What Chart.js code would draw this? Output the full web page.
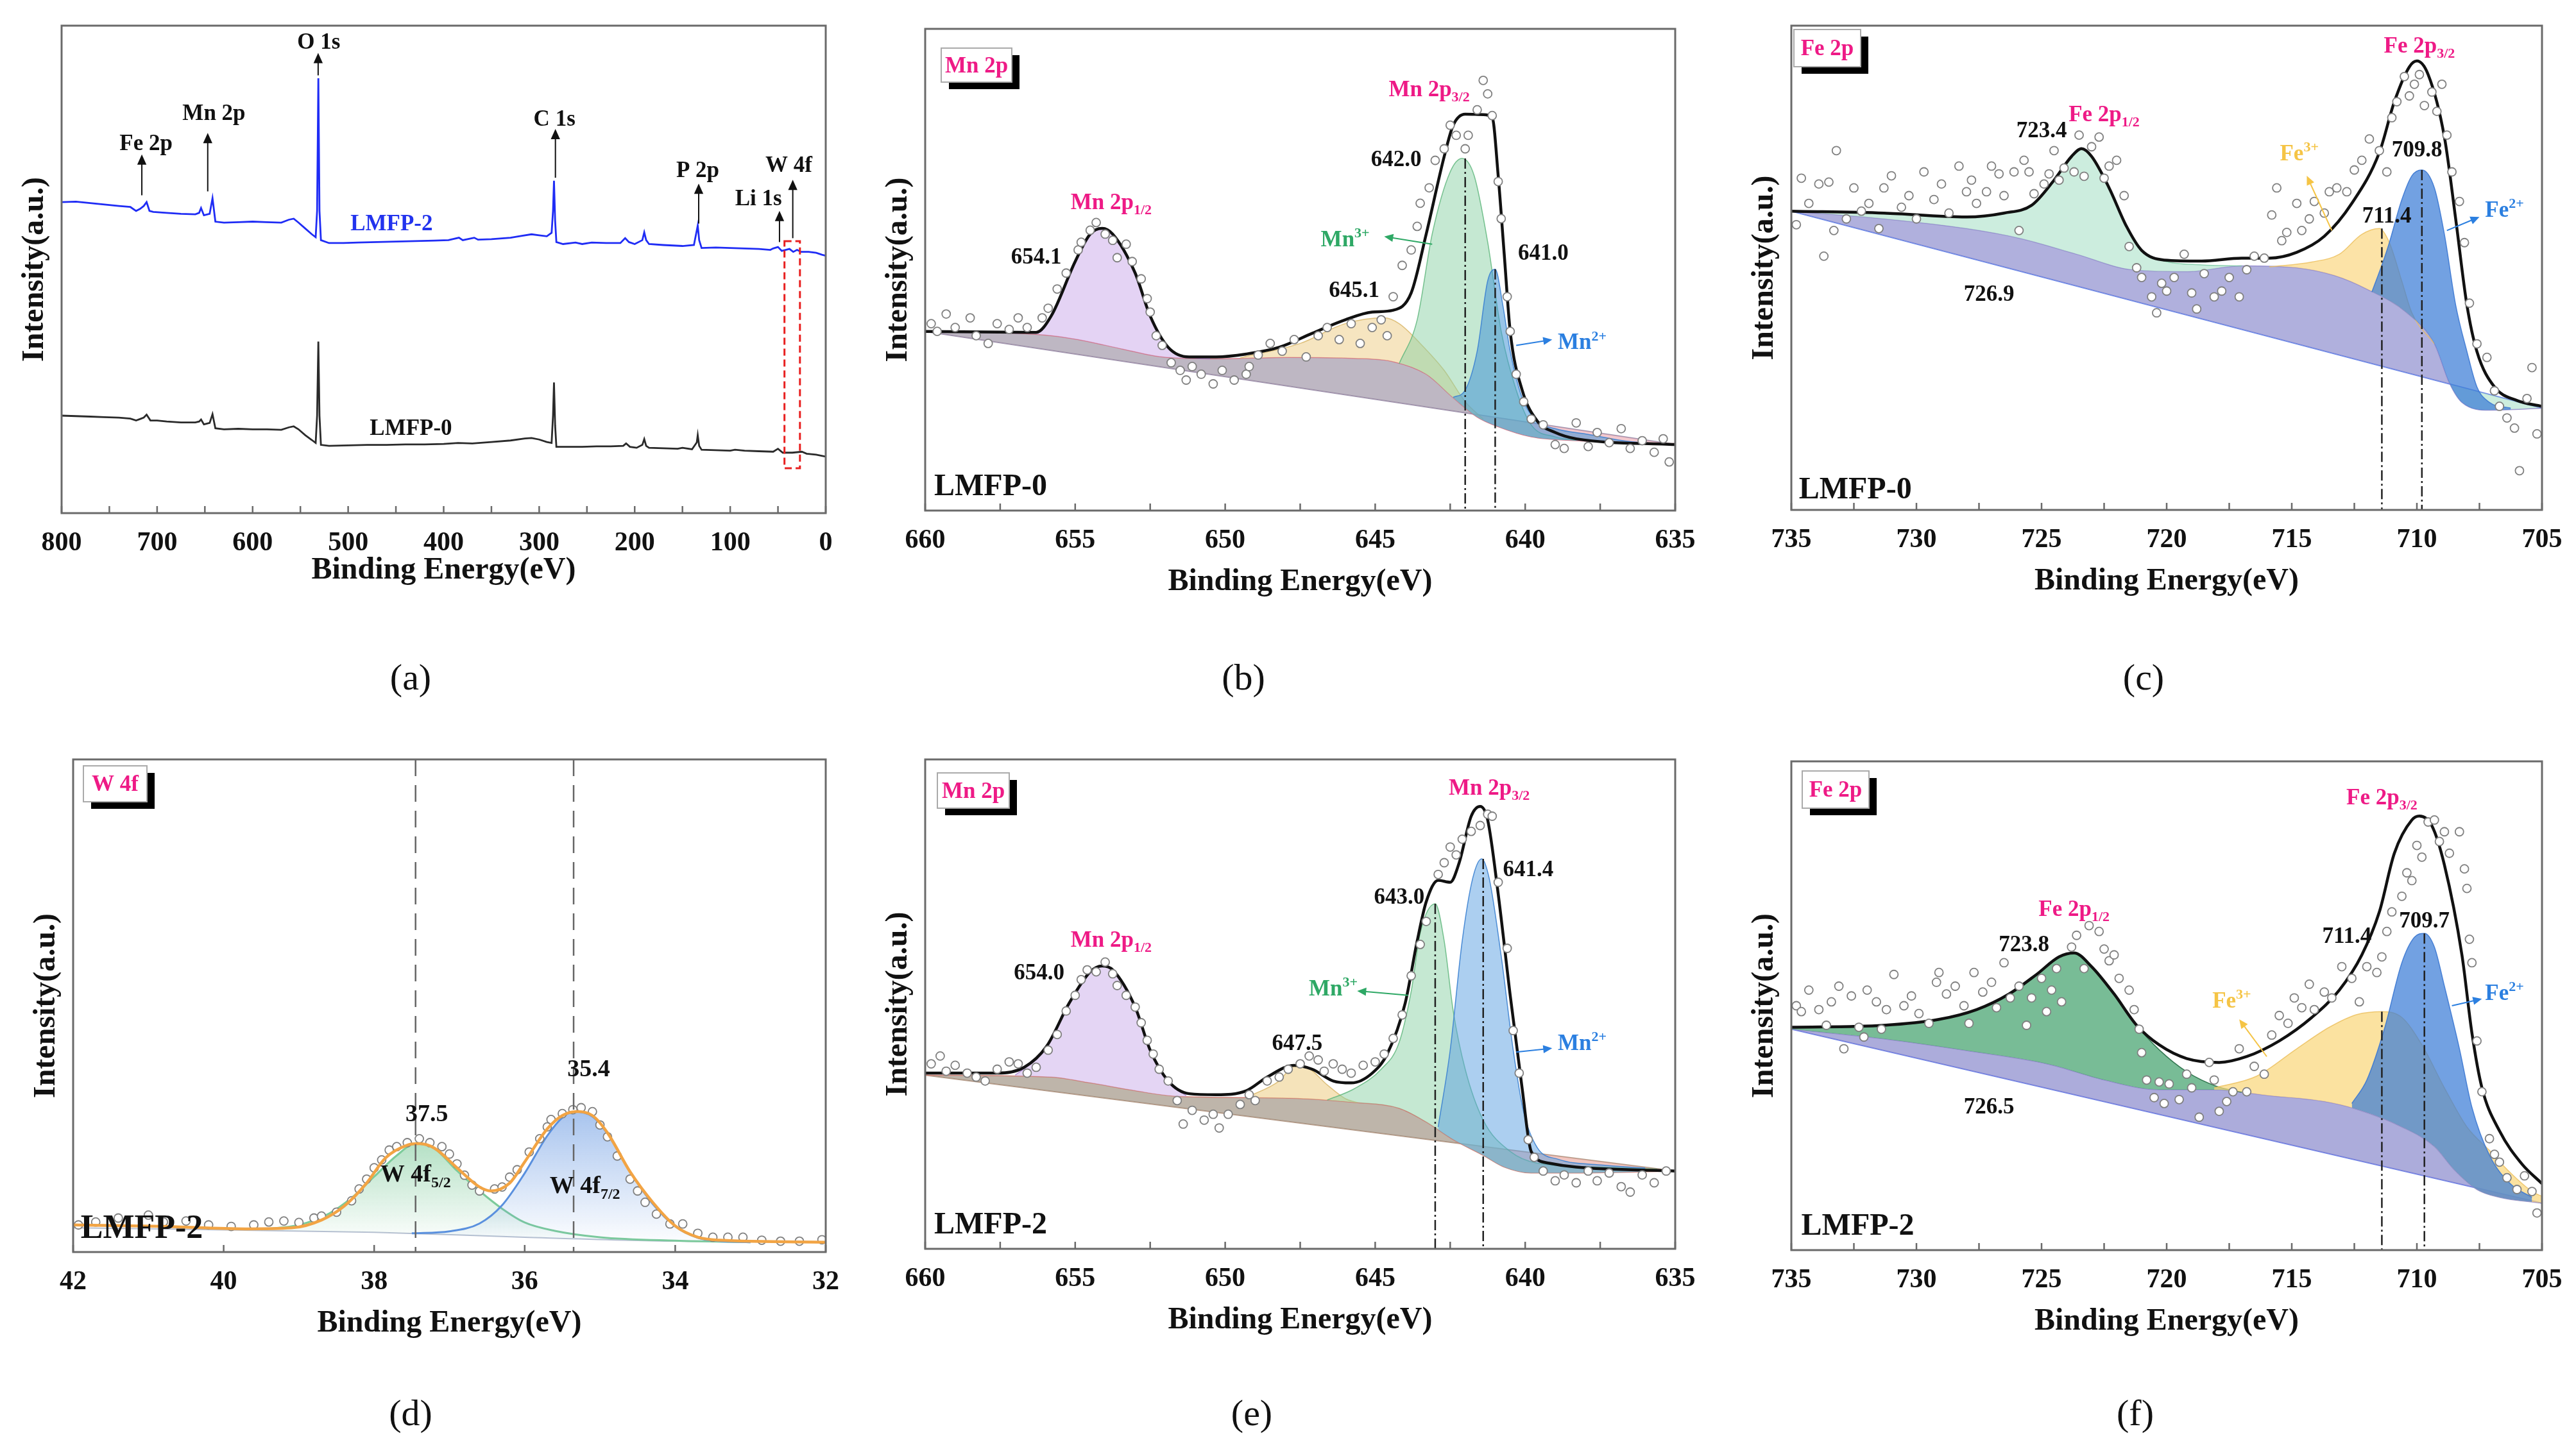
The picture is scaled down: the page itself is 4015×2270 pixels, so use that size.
<!DOCTYPE html>
<html>
<head>
<meta charset="utf-8">
<script src="https://cdn.jsdelivr.net/npm/chart.js@4.4.1/dist/chart.umd.min.js"></script>
<style>
  body { margin: 0; background: #fff; }
  #fig { position: relative; width: 4015px; height: 2270px; background: #fff; overflow: hidden; }
  .panel { position: absolute; }
  .lab { position: absolute; font-family: "Liberation Serif", serif; font-size: 58px; color: #111; transform: translate(-50%, -50%); }
</style>
</head>
<body>
<div id="fig">
  <div class="panel" id="pa"></div>
  <div class="panel" id="pb"></div>
  <div class="panel" id="pc"></div>
  <div class="panel" id="pd"></div>
  <div class="panel" id="pe"></div>
  <div class="panel" id="pf"></div>
  <div class="lab" style="left:640px;top:1055px">(a)</div>
  <div class="lab" style="left:1938px;top:1055px">(b)</div>
  <div class="lab" style="left:3341px;top:1055px">(c)</div>
  <div class="lab" style="left:640px;top:2202px">(d)</div>
  <div class="lab" style="left:1951px;top:2202px">(e)</div>
  <div class="lab" style="left:3328px;top:2202px">(f)</div>
</div>
<script>
// ---- (a) survey spectra: [binding energy, intensity] ----
const surveyLMFP2 = [[800,63.8],[785,63.9],[770,63.6],[755,63.3],[740,63.0],[728,62.8],[722,62.0],[718,62.4],[714,63.0],[711,63.8],[708,62.0],[704,61.8],[690,61.6],[675,61.4],[660,61.3],[656,61.6],[654,62.6],[651,61.1],[645,61.4],[642,64.6],[639,59.8],[630,59.6],[615,59.7],[600,59.8],[585,59.7],[570,59.6],[562,60.2],[557,60.4],[552,59.6],[545,58.4],[538,57.2],[534,56.6],[532.5,62],[531.2,89.2],[530,62],[528.5,56.0],[520,55.4],[505,55.4],[490,55.5],[470,55.6],[450,55.7],[430,55.8],[410,55.9],[395,56.0],[384,56.5],[380,56.0],[368,56.5],[364,56.1],[350,56.2],[330,56.5],[318,56.9],[308,57.2],[300,57.0],[292,56.8],[287,57.5],[285.5,62],[284.5,68.2],[283.3,60],[282,55.6],[275,55.2],[262,55.5],[255,55.2],[245,55.5],[230,55.4],[215,55.4],[210,56.4],[206,55.6],[200,55.2],[192,56.0],[190,57.6],[188,56.0],[185,55.2],[170,55.0],[150,54.8],[138,55.0],[135,58],[134,59.0],[132.5,56],[130,54.4],[115,54.5],[100,54.4],[85,54.3],[70,54.2],[58,54.0],[55,54.3],[50,54.6],[46,53.8],[42,54.0],[38,54.2],[34,53.6],[30,54.0],[26,53.6],[18,53.6],[10,53.4],[4,53.0],[0,52.8]];
const surveyLMFP0 = [[800,20.0],[785,19.9],[770,19.8],[755,19.7],[740,19.6],[728,19.4],[722,19.0],[718,19.3],[714,19.6],[711,20.2],[707,19.0],[700,19.0],[690,18.8],[675,18.6],[660,18.6],[656,18.8],[654,19.2],[651,18.2],[645,18.5],[642,20.3],[639,17.4],[630,17.2],[615,17.3],[600,17.2],[585,17.2],[570,17.1],[562,17.6],[557,17.8],[552,17.2],[545,16.0],[538,15.0],[534,14.4],[532.5,20],[531.2,35.2],[530,20],[528.5,14.0],[520,13.8],[500,13.9],[480,14.0],[460,14.0],[440,14.1],[420,14.1],[400,14.2],[385,14.4],[370,14.3],[350,14.6],[330,14.9],[315,15.3],[308,15.4],[300,15.1],[292,14.6],[287,14.4],[285.5,20],[284.5,26.8],[283.3,18],[282,13.6],[270,13.6],[255,13.6],[240,13.7],[225,13.7],[212,13.8],[209,14.3],[205,13.6],[198,13.4],[192,14.0],[190,15.2],[188,13.8],[185,13.4],[170,13.3],[155,13.2],[150,13.4],[140,13.1],[135,14.5],[134,16.0],[132.5,13.8],[130,13.0],[115,12.9],[100,12.8],[95,13.0],[85,12.8],[70,12.7],[55,12.6],[50,13.2],[45,12.4],[35,12.4],[25,12.6],[20,12.2],[10,12.0],[0,11.6]];
const surveyTicks = [800, 700, 600, 500, 400, 300, 200, 100, 0];

// ---- (b) Mn 2p, LMFP-0 ----
const mn0Linear = [[660,37.2],[635,13.7]];
const mn0Shirley = [[660,37.2],[656.1,36.5],[654.9,35.5],[653.4,33.5],[652.1,31.9],[650.3,31.5],[647.9,31.8],[645.7,31.6],[644.4,30.9],[643.3,28.3],[642.4,23.4],[641.6,19.4],[640.9,17.4],[639.8,15.3],[638.3,14.5],[635,13.9]];
const mn0Envelope = [[660,37.2],[656.3,37.0],[655.8,40.4],[655.0,51.7],[654.5,57.4],[654.1,58.6],[653.75,57.4],[653.0,49.3],[652.5,40.4],[651.9,33.9],[651.2,31.9],[650.3,31.9],[649.3,32.5],[648.2,33.9],[647.1,36.8],[646.0,39.6],[645.1,41.2],[644.4,41.6],[643.8,45.2],[643.3,57.4],[642.7,73.5],[642.4,80.0],[642.0,82.3],[641.4,82.2],[641.1,81.6],[640.9,69.5],[640.7,53.3],[640.5,37.2],[640.1,25.0],[639.6,18.6],[639.0,16.2],[638.3,14.9],[635,13.7]];
const mn0P12 = [[657.0,36.8],[656.3,37.0],[655.8,40.4],[655.0,51.7],[654.5,57.4],[654.1,58.6],[653.75,57.4],[653.0,49.3],[652.5,40.4],[651.9,33.9],[651.2,31.8],[650.5,31.5]];
const mn0Sat = [[649.5,31.7],[647.5,34.7],[646.0,38.8],[644.7,40.0],[644.2,38.8],[643.5,34.7],[642.7,29.1],[642.0,22.6],[641.4,19.0]];
const mn0Mn3 = [[644.2,30.5],[643.6,39.6],[643.1,57.4],[642.5,70.3],[642.1,73.1],[641.7,69.5],[641.25,55.7],[640.8,37.2],[640.3,25.0],[639.8,17.8],[639.0,15.3],[638.3,14.6]];
const mn0Mn2 = [[642.4,23.5],[642.0,25.0],[641.6,33.1],[641.25,47.7],[641.0,50.1],[640.75,42.8],[640.5,33.1],[640.1,23.4],[639.6,18.6],[639.0,17.0],[637.9,15.8],[636.5,14.3],[635.5,13.9]];
const mn0Raw = [[659.8,38.8],[659.6,37.2],[659.3,40.8],[659.0,38.0],[658.5,40.0],[658.3,36.3],[657.9,34.7],[657.6,38.8],[657.2,37.6],[656.9,40.0],[656.6,38.0],[656.1,40.0],[655.9,42.0],[655.6,46.0],[655.3,49.3],[654.9,54.1],[654.8,55.7],[654.5,58.2],[654.3,59.8],[654.0,57.4],[653.75,56.1],[653.6,52.5],[653.3,55.3],[653.1,51.7],[652.8,48.1],[652.6,44.0],[652.5,41.2],[652.3,36.3],[652.1,34.3],[651.8,30.7],[651.5,29.1],[651.3,27.1],[651.1,29.9],[650.8,28.3],[650.4,26.3],[650.1,29.1],[649.7,27.1],[649.3,28.3],[649.2,29.9],[648.9,32.3],[648.5,34.7],[648.1,33.1],[647.7,35.5],[647.3,31.9],[646.9,36.3],[646.6,38.0],[646.2,35.5],[645.8,38.8],[645.5,34.7],[645.1,38.0],[644.8,39.6],[644.6,36.3],[644.4,44.4],[644.1,50.9],[643.8,54.1],[643.6,59.0],[643.5,63.8],[643.2,67.0],[643.0,72.7],[642.7,75.1],[642.5,80.0],[642.3,77.9],[642.0,75.1],[641.9,77.9],[641.6,83.2],[641.4,89.3],[641.25,86.5],[641.1,82.0],[640.9,68.3],[640.8,60.6],[640.6,44.4],[640.5,37.2],[640.3,28.3],[640.05,22.6],[639.8,19.0],[639.4,17.8],[639.0,13.7],[638.7,12.9],[638.3,18.2],[637.9,13.3],[637.6,16.2],[637.2,14.1],[636.8,17.0],[636.5,12.9],[636.1,14.5],[635.7,12.1],[635.4,14.9],[635.2,10.1]];

// ---- (e) Mn 2p, LMFP-2 ----
const mn2Linear = [[660,35.5],[635,15.9]];
const mn2Shirley = [[660,35.5],[655.8,35.1],[654.5,33.9],[653.0,32.3],[651.7,31.2],[649.3,30.9],[647.5,30.7],[645.7,29.9],[644.2,28.7],[643.3,25.9],[642.4,22.3],[641.4,19.1],[640.7,16.7],[639.8,15.5],[638.3,15.5],[635,15.9]];
const mn2Envelope = [[660,35.9],[657.6,35.9],[656.7,37.1],[655.95,41.4],[655.2,50.2],[654.5,56.6],[654.1,57.8],[653.75,57.0],[653.0,49.4],[652.5,40.6],[651.9,34.3],[651.2,31.7],[650.3,31.5],[649.3,32.3],[648.6,35.1],[647.7,37.5],[647.1,36.7],[646.4,34.3],[645.8,33.9],[645.1,35.9],[644.6,39.8],[644.0,50.2],[643.6,62.9],[643.3,70.9],[642.9,75.3],[642.5,74.9],[642.2,78.9],[641.8,88.4],[641.5,90.4],[641.25,87.6],[640.9,72.5],[640.5,51.8],[640.1,32.7],[639.8,19.9],[639.2,17.5],[638.3,16.7],[635,15.9]];
const mn2P12 = [[657.0,35.5],[656.5,37.8],[656.0,41.0],[655.2,50.2],[654.5,56.6],[654.0,57.8],[653.75,57.0],[653.0,49.4],[652.5,40.6],[651.9,34.0],[651.3,31.3]];
const mn2Sat = [[649.3,30.9],[648.2,34.3],[647.7,37.3],[647.3,37.1],[646.6,33.5],[646.0,30.7],[645.6,29.9]];
const mn2Mn3 = [[646.6,30.4],[645.7,32.7],[644.8,36.7],[644.2,42.2],[643.8,52.6],[643.5,64.5],[643.0,70.5],[642.7,62.9],[642.4,48.6],[642.0,36.7],[641.4,26.3],[640.5,19.9],[639.6,17.5],[637.4,16.7],[635.6,16.3]];
const mn2Mn2 = [[642.9,24.9],[642.5,40.6],[642.1,62.9],[641.75,75.7],[641.45,79.7],[641.2,75.7],[640.8,59.8],[640.4,40.6],[640.05,27.9],[639.6,20.7],[638.9,18.3],[637.4,17.1],[636.0,16.5]];
const mn2Raw = [[659.8,37.8],[659.5,39.4],[659.3,36.3],[659.0,37.5],[658.6,35.9],[658.3,35.1],[658.0,34.3],[657.6,36.7],[657.2,38.2],[656.9,37.8],[656.6,35.9],[656.3,37.1],[655.9,40.6],[655.6,43.8],[655.3,48.6],[655.0,51.8],[654.8,55.0],[654.6,57.0],[654.3,56.6],[654.0,58.6],[653.75,56.2],[653.6,53.8],[653.3,51.8],[653.0,49.4],[652.8,46.2],[652.6,42.6],[652.4,39.8],[652.2,36.7],[651.9,34.3],[651.6,30.3],[651.4,25.5],[651.1,28.3],[650.7,26.3],[650.4,27.5],[650.2,24.7],[649.9,27.5],[649.5,29.5],[649.2,31.5],[649.0,30.3],[648.6,34.3],[648.2,35.1],[647.9,36.7],[647.5,37.8],[647.2,39.4],[646.9,38.6],[646.7,36.3],[646.4,37.8],[646.1,36.7],[645.8,35.9],[645.4,37.5],[645.0,38.2],[644.7,39.8],[644.4,43.0],[644.1,47.8],[643.8,55.8],[643.5,62.2],[643.3,66.9],[642.9,76.5],[642.7,78.9],[642.5,82.1],[642.3,80.5],[642.1,83.7],[641.8,85.3],[641.5,86.5],[641.25,88.8],[641.1,88.4],[640.9,74.9],[640.6,61.4],[640.4,44.6],[640.2,35.9],[639.9,22.3],[639.7,18.7],[639.4,15.9],[639.0,13.9],[638.7,15.1],[638.3,13.5],[637.9,15.9],[637.6,13.9],[637.2,15.5],[636.8,12.7],[636.5,11.6],[636.1,15.1],[635.7,13.5],[635.3,15.9]];
const mnTicks = [660, 655, 650, 645, 640, 635];

// ---- (c) Fe 2p, LMFP-0 ----
const fe0Linear = [[735,61.7],[705,21.0]];
const fe0Shirley = [[735,61.7],[731.3,60.1],[728.0,58.1],[725.8,56.0],[723.6,52.8],[721.4,49.6],[719.2,49.2],[717.0,50.4],[714.8,50.0],[713.3,48.4],[712.0,45.6],[710.4,40.7],[709.3,34.3],[708.7,26.2],[708.2,22.2],[707.1,20.6],[705,21.0]];
const fe0Envelope = [[735,61.7],[731.3,61.3],[728.0,60.5],[726.5,61.3],[725.4,62.9],[724.5,68.1],[723.8,73.0],[723.4,74.6],[723.0,73.0],[722.3,66.5],[721.6,58.5],[721.0,53.6],[720.1,51.6],[718.6,51.4],[717.0,52.0],[715.9,52.0],[714.8,53.2],[713.7,56.5],[712.6,63.3],[711.5,73.8],[710.9,84.3],[710.3,91.5],[710.0,92.7],[709.55,89.9],[708.9,77.0],[708.45,60.1],[708.0,42.3],[707.6,32.7],[706.9,25.4],[706.0,22.6],[705,21.4]];
const fe0P12 = [[735,61.7],[731.3,61.3],[728.0,60.5],[726.5,61.3],[725.4,62.9],[724.5,68.1],[723.8,73.0],[723.4,74.6],[723.0,73.0],[722.3,66.5],[721.6,58.5],[721.0,53.6],[720.1,51.4],[718.6,50.6],[717.0,50.4]];
const fe0Fe3 = [[715.9,50.2],[714.2,51.2],[713.1,52.8],[712.2,56.9],[711.5,58.1],[711.1,55.2],[710.6,47.2],[710.2,40.7],[709.3,34.3]];
const fe0Fe2 = [[711.8,45.0],[711.3,52.0],[711.1,55.2],[710.6,64.1],[710.2,69.0],[709.8,70.2],[709.3,66.5],[708.9,56.9],[708.45,42.3],[708.0,32.7],[707.6,25.4],[707.1,22.2],[706.25,21.0]];
const fe0Raw = [[734.8,58.9],[734.6,68.5],[734.3,63.3],[733.9,67.3],[733.7,52.4],[733.5,67.7],[733.3,57.7],[733.2,74.2],[732.8,60.1],[732.5,66.5],[732.2,61.7],[731.9,63.3],[731.5,58.1],[731.3,66.5],[731.0,69.0],[730.6,62.5],[730.3,64.9],[730.0,60.1],[729.7,69.8],[729.3,64.1],[729.0,67.3],[728.7,61.3],[728.3,71.0],[728.0,65.7],[727.8,68.1],[727.6,63.3],[727.2,65.7],[727.0,71.0],[726.7,69.4],[726.5,64.9],[726.1,69.8],[725.9,57.7],[725.7,72.2],[725.5,69.8],[725.3,65.3],[724.9,67.3],[724.7,69.4],[724.5,74.2],[724.3,68.1],[724.1,70.6],[723.7,69.8],[723.5,77.4],[723.3,68.9],[723.0,75.0],[722.7,77.0],[722.5,68.5],[722.3,71.0],[722.0,72.2],[721.7,64.9],[721.5,54.4],[721.2,50.0],[721.0,48.0],[720.6,44.0],[720.4,40.7],[720.2,46.8],[720.0,45.2],[719.7,48.0],[719.3,52.8],[719.0,44.8],[718.8,41.5],[718.5,48.8],[718.1,44.0],[717.8,45.2],[717.5,48.0],[717.1,44.0],[716.8,49.6],[716.5,52.4],[716.1,52.0],[715.8,60.9],[715.6,66.5],[715.4,55.6],[715.2,57.3],[714.8,63.3],[714.6,57.7],[714.3,60.1],[714.1,63.7],[713.7,61.3],[713.5,65.7],[713.2,66.5],[712.8,65.7],[712.5,70.2],[712.2,72.2],[711.9,76.6],[711.5,74.2],[711.2,69.8],[711.0,81.0],[710.8,84.3],[710.5,89.5],[710.3,85.5],[710.1,87.9],[709.9,89.9],[709.7,83.5],[709.4,86.3],[709.2,82.3],[709.0,87.9],[708.8,77.4],[708.6,69.8],[708.3,63.7],[708.1,55.2],[707.9,42.7],[707.6,34.3],[707.2,31.5],[706.9,24.6],[706.7,21.4],[706.4,19.0],[706.1,16.9],[705.9,8.1],[705.6,23.0],[705.4,29.4],[705.2,15.7]];

// ---- (f) Fe 2p, LMFP-2 ----
const fe2Linear = [[735,45.2],[705,9.6]];
const fe2Shirley = [[735,45.2],[731.3,43.2],[728.0,40.8],[724.7,38.0],[722.5,34.8],[720.3,32.8],[718.1,32.8],[715.9,31.6],[713.7,30.4],[712.4,28.8],[710.6,25.2],[709.3,21.2],[708.5,16.4],[707.6,12.4],[706.7,10.8],[705,9.6]];
const fe2Envelope = [[735,45.6],[731.3,46.0],[729.1,47.2],[727.6,49.2],[726.3,52.4],[725.2,56.4],[724.3,60.0],[723.7,60.8],[723.0,58.0],[722.1,52.4],[721.2,46.0],[720.3,42.0],[719.2,39.2],[717.9,38.4],[716.8,39.6],[715.5,42.8],[714.2,47.6],[713.1,53.2],[712.2,60.4],[711.5,69.2],[710.9,81.2],[710.2,88.0],[709.9,88.8],[709.4,86.8],[708.9,78.8],[708.2,60.4],[707.8,44.4],[707.4,33.2],[706.7,24.4],[705.8,17.6],[705,13.6]];
const fe2P12 = [[735,45.6],[731.3,46.0],[729.1,47.2],[727.6,49.2],[726.3,52.4],[725.2,56.4],[724.3,60.0],[723.7,60.8],[723.0,58.0],[722.1,52.4],[721.2,46.0],[720.3,41.0],[719.2,36.5],[718.0,33.5],[717.0,32.3]];
const fe2Fe3 = [[718.1,33.2],[716.4,35.6],[714.8,41.2],[713.5,45.6],[712.4,48.2],[711.4,48.8],[710.6,47.6],[709.8,42.0],[708.9,33.2],[708.0,25.2],[707.1,20.4],[706.3,16.0],[705.4,12.0],[705.0,11.0]];
const fe2Fe2 = [[712.6,30.0],[712.0,34.8],[711.3,45.2],[710.6,58.8],[710.1,64.0],[709.7,64.8],[709.3,62.0],[708.9,54.0],[708.3,41.2],[707.8,29.2],[707.1,19.4],[706.25,13.5],[705.4,10.8]];
const fe2Raw = [[734.8,50.0],[734.6,48.8],[734.3,53.2],[733.9,49.2],[733.6,46.0],[733.4,50.8],[733.1,54.0],[732.9,41.2],[732.6,52.0],[732.3,45.6],[732.1,43.6],[731.97,53.2],[731.6,50.8],[731.4,45.2],[731.2,49.2],[730.9,56.4],[730.5,50.0],[730.2,52.0],[729.9,48.4],[729.5,46.4],[729.2,54.8],[729.1,56.8],[728.8,52.4],[728.45,54.0],[728.1,50.0],[727.9,46.4],[727.7,56.8],[727.35,52.8],[727.0,54.8],[726.8,49.6],[726.5,58.8],[726.25,51.6],[725.9,54.0],[725.6,46.0],[725.4,51.6],[725.0,55.6],[724.8,48.8],[724.6,53.2],[724.4,57.6],[724.2,50.8],[723.8,62.0],[723.6,64.4],[723.3,57.6],[723.1,66.4],[722.7,65.2],[722.5,61.6],[722.3,59.2],[722.1,60.4],[721.9,55.6],[721.5,53.2],[721.3,49.2],[721.1,45.2],[721.0,40.4],[720.8,34.8],[720.5,31.2],[720.3,34.4],[720.1,30.0],[719.9,34.0],[719.5,30.8],[719.2,36.0],[719.0,33.2],[718.7,27.2],[718.3,38.4],[718.1,34.8],[717.9,28.4],[717.6,30.4],[717.35,32.4],[717.1,41.2],[716.8,32.4],[716.5,37.6],[716.1,36.0],[715.8,44.0],[715.5,48.0],[715.15,46.4],[714.9,51.6],[714.6,49.6],[714.3,54.4],[714.1,49.2],[713.7,52.8],[713.4,51.6],[713.0,58.0],[712.6,55.6],[712.3,50.8],[712.0,58.0],[711.6,56.8],[711.4,60.0],[711.2,65.2],[711.0,69.2],[710.6,72.4],[710.4,77.2],[710.2,75.6],[710.0,82.8],[709.8,80.4],[709.55,87.6],[709.3,88.0],[709.1,83.6],[708.9,85.6],[708.7,81.2],[708.3,85.6],[708.1,78.0],[708.0,74.0],[707.9,63.6],[707.8,58.8],[707.6,42.8],[707.4,32.4],[707.1,22.8],[706.9,19.6],[706.7,18.0],[706.4,14.8],[706.0,12.4],[705.7,15.2],[705.4,12.0],[705.2,7.6]];
const feTicks = [735, 730, 725, 720, 715, 710, 705];

// ---- (d) W 4f, LMFP-2 ----
const w2Background = [[42,4.9],[38,4.0],[36,3.0],[34,2.2],[32,2.0]];
const w2Envelope = [[42,5.5],[40.8,5.2],[39.7,4.7],[39.1,4.9],[38.7,6.5],[38.4,9.3],[38.1,14.0],[37.85,19.1],[37.56,21.7],[37.4,22.0],[37.2,21.1],[36.9,17.1],[36.6,13.2],[36.45,12.4],[36.2,14.0],[36.0,18.3],[35.7,25.0],[35.5,27.7],[35.3,28.5],[35.1,27.7],[34.9,24.2],[34.6,16.3],[34.3,10.1],[34.0,5.3],[33.7,3.0],[33.4,2.4],[32,2.0]];
const w2F52 = [[39.5,4.6],[39.0,5.5],[38.6,7.8],[38.3,11.0],[38.0,15.3],[37.7,19.6],[37.45,22.0],[37.2,21.0],[36.9,16.5],[36.6,12.4],[36.3,8.8],[36.0,6.0],[35.6,4.3],[35.0,3.0],[34.0,2.3],[33.0,2.0]];
const w2F72 = [[37.5,3.8],[37.0,4.2],[36.6,5.8],[36.3,9.5],[36.0,16.0],[35.7,23.6],[35.5,27.3],[35.35,28.5],[35.1,27.5],[34.9,24.0],[34.6,16.3],[34.3,9.8],[34.0,5.2],[33.7,2.9],[33.4,2.2],[33.0,2.0]];
const w2Raw = [[41.93,5.5],[41.7,6.1],[41.4,6.9],[41.0,7.5],[40.8,6.1],[40.5,6.3],[40.2,5.5],[39.9,5.2],[39.6,5.5],[39.4,6.1],[39.2,6.3],[39.0,6.0],[38.8,6.9],[38.7,7.3],[38.5,8.1],[38.3,10.4],[38.2,12.8],[38.1,14.8],[38.0,17.1],[37.9,18.7],[37.8,20.7],[37.7,21.4],[37.56,22.2],[37.4,23.0],[37.26,22.2],[37.1,21.4],[37.0,19.9],[36.9,17.9],[36.8,15.6],[36.7,13.6],[36.6,12.4],[36.4,12.8],[36.3,13.2],[36.2,15.2],[36.1,16.7],[35.94,20.3],[35.8,23.0],[35.7,25.4],[35.65,26.9],[35.5,28.1],[35.36,28.9],[35.25,29.3],[35.1,28.5],[35.0,25.8],[34.9,23.4],[34.77,19.5],[34.6,14.8],[34.5,12.4],[34.4,10.1],[34.25,7.7],[34.07,5.7],[33.9,5.7],[33.7,3.8],[33.5,3.0],[33.3,3.0],[33.1,3.0],[32.85,2.4],[32.6,2.2],[32.35,2.2],[32.05,2.5]];
const wTicks = [42, 40, 38, 36, 34, 32];

// ---------------------------------------------------------------
const SERIF = '"Liberation Serif", "Times New Roman", serif';
const PINK = '#ee1a86';
const pts = arr => arr.map(([x, y]) => ({x, y}));

function richParts(s) {
  const out = [], re = /([_^])\{([^}]*)\}/g;
  let last = 0, m;
  while ((m = re.exec(s))) {
    if (m.index > last) out.push({t: s.slice(last, m.index), k: ''});
    out.push({t: m[2], k: m[1]});
    last = re.lastIndex;
  }
  if (last < s.length) out.push({t: s.slice(last), k: ''});
  return out;
}

function drawRich(ctx, s, x, y, size, color, align) {
  const parts = richParts(s);
  let w = 0;
  parts.forEach(p => {
    p.sz = p.k ? Math.round(size * 0.62) : size;
    ctx.font = `bold ${p.sz}px ${SERIF}`;
    p.w = ctx.measureText(p.t).width;
    w += p.w;
  });
  let cx = align === 'left' ? x : align === 'right' ? x - w : x - w / 2;
  ctx.fillStyle = color;
  ctx.textAlign = 'left';
  ctx.textBaseline = 'middle';
  parts.forEach(p => {
    ctx.font = `bold ${p.sz}px ${SERIF}`;
    const dy = p.k === '_' ? size * 0.32 : p.k === '^' ? -size * 0.3 : 0;
    ctx.fillText(p.t, cx, y + dy);
    cx += p.w;
  });
}

function arrow(ctx, x1, y1, x2, y2, color, w, head) {
  const ang = Math.atan2(y2 - y1, x2 - x1);
  ctx.strokeStyle = color; ctx.fillStyle = color; ctx.lineWidth = w; ctx.setLineDash([]);
  ctx.beginPath();
  ctx.moveTo(x1, y1);
  ctx.lineTo(x2 - Math.cos(ang) * head * 0.8, y2 - Math.sin(ang) * head * 0.8);
  ctx.stroke();
  ctx.beginPath();
  ctx.moveTo(x2, y2);
  ctx.lineTo(x2 - head * Math.cos(ang) + head * 0.45 * Math.sin(ang), y2 - head * Math.sin(ang) - head * 0.45 * Math.cos(ang));
  ctx.lineTo(x2 - head * Math.cos(ang) - head * 0.45 * Math.sin(ang), y2 - head * Math.sin(ang) + head * 0.45 * Math.cos(ang));
  ctx.closePath();
  ctx.fill();
}

// draws frame, inward ticks, label box, guide lines, arrows and texts
function makeDecor(spec) {
  return {
    id: 'decor',
    afterDatasetsDraw(chart) {
      const {ctx, chartArea: a, scales: {x, y}} = chart;
      const X = v => x.getPixelForValue(v), Y = v => y.getPixelForValue(v);
      ctx.save();
      (spec.vlines || []).forEach(l => {
        ctx.strokeStyle = l.color || '#222';
        ctx.lineWidth = l.width || 2.5;
        ctx.setLineDash(l.dash || [16, 5, 3, 5]);
        ctx.beginPath();
        ctx.moveTo(X(l.x), l.top === undefined ? a.top : Y(l.top));
        ctx.lineTo(X(l.x), a.bottom);
        ctx.stroke();
      });
      (spec.rects || []).forEach(r => {
        ctx.strokeStyle = r.color; ctx.lineWidth = 3; ctx.setLineDash(r.dash);
        ctx.strokeRect(X(r.x1), Y(r.y1), X(r.x2) - X(r.x1), Y(r.y2) - Y(r.y1));
      });
      (spec.arrows || []).forEach(r => arrow(ctx, X(r[0]), Y(r[1]), X(r[2]), Y(r[3]), r[4] || '#111', r[5] || 2, r[6] || 16));
      (spec.texts || []).forEach(t => drawRich(ctx, t.t, X(t.x), Y(t.y), t.s || 35, t.c || '#111', t.a || 'center'));
      // frame
      ctx.setLineDash([]);
      ctx.strokeStyle = '#6a6a6a';
      ctx.lineWidth = 3;
      ctx.strokeRect(a.left, a.top, a.right - a.left, a.bottom - a.top);
      // inward ticks on x axis
      const tv = spec.ticks;
      const marks = [];
      tv.forEach((v, i) => {
        marks.push(v);
        if (spec.minor && i < tv.length - 1) marks.push((v + tv[i + 1]) / 2);
      });
      ctx.lineWidth = 2.5;
      ctx.beginPath();
      marks.forEach(v => { ctx.moveTo(X(v), a.bottom); ctx.lineTo(X(v), a.bottom - 11); });
      ctx.stroke();
      // element label box
      if (spec.box) {
        const b = spec.box, bx = a.left + b.dx, by = a.top + b.dy;
        ctx.fillStyle = '#000';
        ctx.fillRect(bx + 12, by + 11, b.w, b.h);
        ctx.fillStyle = '#fff';
        ctx.fillRect(bx, by, b.w, b.h);
        ctx.strokeStyle = '#aaa'; ctx.lineWidth = 2;
        ctx.strokeRect(bx, by, b.w, b.h);
        drawRich(ctx, b.text, bx + b.w / 2, by + b.h / 2 + 2, 35, PINK, 'center');
      }
      ctx.restore();
    }
  };
}

function panel(id, frame, xr, ticks, datasets, spec, xh) {
  const YW = 70, PT = 10, PR = 50, XH = xh || 140;
  const host = document.getElementById(id);
  host.style.left = (frame[0] - YW) + 'px';
  host.style.top = (frame[1] - PT) + 'px';
  host.style.width = (frame[2] - frame[0] + YW + PR) + 'px';
  host.style.height = (frame[3] - frame[1] + PT + XH) + 'px';
  const canvas = document.createElement('canvas');
  host.appendChild(canvas);
  spec.ticks = ticks;
  return new Chart(canvas, {
    type: 'line',
    data: {datasets},
    options: {
      responsive: true,
      maintainAspectRatio: false,
      animation: false,
      devicePixelRatio: 1,
      layout: {padding: {top: PT, right: PR, left: 0, bottom: 0}},
      plugins: {legend: {display: false}, tooltip: {enabled: false}},
      scales: {
        x: {
          type: 'linear', reverse: true, min: xr[1], max: xr[0],
          afterBuildTicks: s => { s.ticks = ticks.map(v => ({value: v})); },
          ticks: {font: {family: SERIF, weight: 'bold', size: 42}, color: '#111', padding: 14, maxRotation: 0, autoSkip: false},
          grid: {display: false}, border: {display: false},
          title: {display: true, text: 'Binding Energy(eV)', color: '#111', padding: 0, font: {family: SERIF, weight: 'bold', size: 48}},
          afterFit: s => { s.height = XH; }
        },
        y: {
          min: 0, max: 100,
          ticks: {display: false}, grid: {display: false}, border: {display: false},
          title: {display: true, text: 'Intensity(a.u.)', color: '#111', padding: 0, font: {family: SERIF, weight: 'bold', size: 48}},
          afterFit: s => { s.width = YW; }
        }
      }
    },
    plugins: [makeDecor(spec)]
  });
}

function fitDatasets(p) {
  const ds = [];
  ds.push({data: pts(p.linear), borderColor: p.linColor, borderWidth: 2, pointRadius: 0, fill: false, order: 5});
  ds.push({data: pts(p.shirley), borderColor: p.bgLine, borderWidth: 1.5, pointRadius: 0, cubicInterpolationMode: 'monotone',
           backgroundColor: p.bgAbove, fill: {target: 0, above: p.bgAbove, below: p.bgBelow}, order: 4});
  p.comps.forEach((c, i) => ds.push({data: pts(c[0]), borderColor: c[2], borderWidth: 1.5, pointRadius: 0, cubicInterpolationMode: 'monotone',
           backgroundColor: c[1], fill: {target: 1, above: c[1], below: 'rgba(0,0,0,0)'}, order: 3 - i * 0.1}));
  ds.push({data: pts(p.envelope), borderColor: '#111', borderWidth: 4.5, pointRadius: 0, cubicInterpolationMode: 'monotone', fill: false, order: 1});
  ds.push({data: pts(p.raw), showLine: false, pointRadius: 6.5, pointBackgroundColor: '#fff', pointBorderColor: '#808080', pointBorderWidth: 1.8, order: 0});
  return ds;
}

// (a) survey
panel('pa', [96, 40, 1287, 800], [800, 0], surveyTicks, [
  {data: pts(surveyLMFP2), borderColor: '#1f2cf5', borderWidth: 2.8, pointRadius: 0, fill: false},
  {data: pts(surveyLMFP0), borderColor: '#2a2a2a', borderWidth: 2.8, pointRadius: 0, fill: false}
], {
  minor: true,
  rects: [{x1: 43.2, x2: 27.0, y1: 55.8, y2: 9.2, color: '#e82020', dash: [11, 6]}],
  arrows: [[716, 65.2, 716, 73.6], [647, 66, 647, 78], [531.4, 89.8, 531.4, 94.4], [283, 68.8, 283, 78.8], [133, 59.4, 133, 67.6], [48.4, 55.6, 48.4, 62.0], [34.5, 56.4, 34.5, 68.4]],
  texts: [
    {x: 711.6, y: 75.6, t: 'Fe 2p'}, {x: 640.5, y: 81.8, t: 'Mn 2p'}, {x: 530.8, y: 96.4, t: 'O 1s'},
    {x: 284, y: 80.6, t: 'C 1s'}, {x: 134, y: 70.2, t: 'P 2p'}, {x: 70.4, y: 64.4, t: 'Li 1s'}, {x: 38.6, y: 71.2, t: 'W 4f'},
    {x: 454.5, y: 59.2, t: 'LMFP-2', c: '#2233ee'}, {x: 434.3, y: 17.2, t: 'LMFP-0'}
  ]
}, 118);

// (b) Mn 2p LMFP-0
panel('pb', [1442, 45, 2611, 796], [660, 635], mnTicks, fitDatasets({
  linear: mn0Linear, linColor: 'rgba(150,140,170,0.9)',
  shirley: mn0Shirley, bgLine: 'rgba(210,110,130,0.9)', bgAbove: 'rgba(150,138,158,0.62)', bgBelow: 'rgba(235,165,175,0.6)',
  comps: [
    [mn0P12, 'rgba(205,175,235,0.55)', 'rgba(170,130,210,0.8)'],
    [mn0Sat, 'rgba(238,208,140,0.55)', 'rgba(215,180,100,0.8)'],
    [mn0Mn3, 'rgba(140,210,165,0.5)', 'rgba(90,180,120,0.8)'],
    [mn0Mn2, 'rgba(70,150,215,0.55)', 'rgba(60,130,210,0.9)']
  ],
  envelope: mn0Envelope, raw: mn0Raw
}), {
  minor: true,
  box: {text: 'Mn 2p', dx: 25, dy: 30, w: 110, h: 53},
  vlines: [{x: 642.0, top: 73.1}, {x: 641.0, top: 50.1}],
  arrows: [[643.1, 55.3, 644.7, 56.9, '#2ea865', 2, 14], [640.3, 34.3, 639.1, 35.5, '#2b7fe0', 2, 14]],
  texts: [
    {x: 643.2, y: 87.2, t: 'Mn 2p_{3/2}', c: PINK}, {x: 644.3, y: 72.7, t: '642.0'},
    {x: 653.8, y: 63.8, t: 'Mn 2p_{1/2}', c: PINK}, {x: 656.3, y: 52.5, t: '654.1'},
    {x: 645.7, y: 45.6, t: '645.1'}, {x: 646.0, y: 56.1, t: 'Mn^{3+}', c: '#2ea865'},
    {x: 639.4, y: 53.3, t: '641.0'}, {x: 638.1, y: 34.7, t: 'Mn^{2+}', c: '#2b7fe0'},
    {x: 659.7, y: 4.8, t: 'LMFP-0', s: 48, a: 'left'}
  ]
});

// (c) Fe 2p LMFP-0
panel('pc', [2792, 40, 3962, 795], [735, 705], feTicks, fitDatasets({
  linear: fe0Linear, linColor: 'rgba(90,120,235,0.9)',
  shirley: fe0Shirley, bgLine: 'rgba(140,130,200,0.8)', bgAbove: 'rgba(128,128,200,0.62)', bgBelow: 'rgba(170,225,200,0.6)',
  comps: [
    [fe0P12, 'rgba(170,225,200,0.6)', 'rgba(120,200,160,0.8)'],
    [fe0Fe3, 'rgba(250,212,120,0.65)', 'rgba(235,190,90,0.8)'],
    [fe0Fe2, 'rgba(60,125,215,0.72)', 'rgba(60,120,210,0.9)']
  ],
  envelope: fe0Envelope, raw: fe0Raw
}), {
  minor: true,
  box: {text: 'Fe 2p', dx: 4, dy: 6, w: 104, h: 58},
  vlines: [{x: 711.4, top: 58.1}, {x: 709.8, top: 70.2}],
  arrows: [[713.4, 57.7, 714.4, 69.0, '#f5c445', 2, 14], [708.8, 57.7, 707.5, 60.5, '#2b7fe0', 2, 14]],
  texts: [
    {x: 709.9, y: 95.6, t: 'Fe 2p_{3/2}', c: PINK}, {x: 725.0, y: 78.2, t: '723.4'},
    {x: 722.5, y: 81.5, t: 'Fe 2p_{1/2}', c: PINK}, {x: 714.7, y: 73.4, t: 'Fe^{3+}', c: '#f5c445'},
    {x: 710.0, y: 74.2, t: '709.8'}, {x: 711.2, y: 60.5, t: '711.4'},
    {x: 706.5, y: 61.7, t: 'Fe^{2+}', c: '#2b7fe0'}, {x: 727.1, y: 44.4, t: '726.9'},
    {x: 734.7, y: 4.0, t: 'LMFP-0', s: 48, a: 'left'}
  ]
});

// (d) W 4f LMFP-2
const wGrad = (top, rgb) => ctx => {
  const c = ctx.chart;
  if (!c.chartArea) return 'rgba(' + rgb + ',0.3)';
  const g = c.ctx.createLinearGradient(0, c.scales.y.getPixelForValue(top), 0, c.scales.y.getPixelForValue(3));
  g.addColorStop(0, 'rgba(' + rgb + ',0.55)');
  g.addColorStop(1, 'rgba(' + rgb + ',0.04)');
  return g;
};
panel('pd', [114, 1184, 1287, 1952], [42, 32], wTicks, [
  {data: pts(w2Background), borderColor: 'rgba(175,185,205,0.9)', borderWidth: 2, pointRadius: 0, cubicInterpolationMode: 'monotone', fill: false, order: 5},
  {data: pts(w2F52), borderColor: '#7ccb9a', borderWidth: 3, pointRadius: 0, cubicInterpolationMode: 'monotone', backgroundColor: wGrad(22, '120,200,150'), fill: {target: 0}, order: 3},
  {data: pts(w2F72), borderColor: '#5a90de', borderWidth: 3, pointRadius: 0, cubicInterpolationMode: 'monotone', backgroundColor: wGrad(28, '100,150,225'), fill: {target: 0}, order: 2.9},
  {data: pts(w2Raw), showLine: false, pointRadius: 6.5, pointBackgroundColor: '#fff', pointBorderColor: '#808080', pointBorderWidth: 1.8, order: 1},
  {data: pts(w2Envelope), borderColor: '#f2a444', borderWidth: 4.5, pointRadius: 0, cubicInterpolationMode: 'monotone', fill: false, order: 0}
], {
  minor: false,
  box: {text: 'W 4f', dx: 16, dy: 10, w: 99, h: 56},
  vlines: [{x: 37.45, color: '#666', width: 2.5, dash: [26, 14]}, {x: 35.35, color: '#666', width: 2.5, dash: [26, 14]}],
  texts: [
    {x: 37.3, y: 27.9, t: '37.5', s: 38}, {x: 35.15, y: 37.0, t: '35.4', s: 38},
    {x: 37.45, y: 15.6, t: 'W 4f_{5/2}', s: 38}, {x: 35.2, y: 13.2, t: 'W 4f_{7/2}', s: 38},
    {x: 41.9, y: 4.6, t: 'LMFP-2', s: 52, a: 'left'}
  ]
});

// (e) Mn 2p LMFP-2
panel('pe', [1442, 1184, 2611, 1947], [660, 635], mnTicks, fitDatasets({
  linear: mn2Linear, linColor: 'rgba(175,150,130,0.9)',
  shirley: mn2Shirley, bgLine: 'rgba(205,120,110,0.9)', bgAbove: 'rgba(150,135,118,0.62)', bgBelow: 'rgba(232,160,150,0.6)',
  comps: [
    [mn2P12, 'rgba(205,178,235,0.55)', 'rgba(170,130,210,0.8)'],
    [mn2Sat, 'rgba(238,208,140,0.6)', 'rgba(215,180,100,0.8)'],
    [mn2Mn3, 'rgba(140,210,165,0.5)', 'rgba(90,180,120,0.8)'],
    [mn2Mn2, 'rgba(90,160,225,0.5)', 'rgba(60,130,210,0.9)']
  ],
  envelope: mn2Envelope, raw: mn2Raw
}), {
  minor: true,
  box: {text: 'Mn 2p', dx: 19, dy: 21, w: 112, h: 55},
  vlines: [{x: 643.0, top: 70.5}, {x: 641.4, top: 79.7}],
  arrows: [[643.9, 51.8, 645.6, 52.7, '#2ea865', 2, 14], [640.3, 40.2, 639.1, 41.0, '#2b7fe0', 2, 14]],
  texts: [
    {x: 641.2, y: 94.0, t: 'Mn 2p_{3/2}', c: PINK}, {x: 644.2, y: 71.7, t: '643.0'},
    {x: 639.9, y: 77.3, t: '641.4'}, {x: 653.8, y: 62.9, t: 'Mn 2p_{1/2}', c: PINK},
    {x: 656.2, y: 56.2, t: '654.0'}, {x: 647.6, y: 41.8, t: '647.5'},
    {x: 646.4, y: 53.0, t: 'Mn^{3+}', c: '#2ea865'}, {x: 638.1, y: 41.8, t: 'Mn^{2+}', c: '#2b7fe0'},
    {x: 659.7, y: 4.8, t: 'LMFP-2', s: 48, a: 'left'}
  ]
});

// (f) Fe 2p LMFP-2
panel('pf', [2792, 1187, 3962, 1949], [735, 705], feTicks, fitDatasets({
  linear: fe2Linear, linColor: 'rgba(90,120,235,0.9)',
  shirley: fe2Shirley, bgLine: 'rgba(140,130,200,0.8)', bgAbove: 'rgba(128,128,200,0.65)', bgBelow: 'rgba(230,130,170,0.6)',
  comps: [
    [fe2P12, 'rgba(75,165,115,0.75)', 'rgba(40,110,70,0.9)'],
    [fe2Fe3, 'rgba(250,214,120,0.7)', 'rgba(235,190,90,0.8)'],
    [fe2Fe2, 'rgba(60,125,215,0.72)', 'rgba(60,120,210,0.9)']
  ],
  envelope: fe2Envelope, raw: fe2Raw
}), {
  minor: true,
  box: {text: 'Fe 2p', dx: 17, dy: 15, w: 104, h: 58},
  vlines: [{x: 711.4, top: 48.8}, {x: 709.7, top: 64.8}],
  arrows: [[716.0, 39.6, 717.1, 47.2, '#f5c445', 2, 14], [708.6, 50.0, 707.4, 51.4, '#2b7fe0', 2, 14]],
  texts: [
    {x: 711.4, y: 92.4, t: 'Fe 2p_{3/2}', c: PINK}, {x: 723.7, y: 69.6, t: 'Fe 2p_{1/2}', c: PINK},
    {x: 725.7, y: 62.4, t: '723.8'}, {x: 712.8, y: 64.0, t: '711.4'}, {x: 709.7, y: 67.2, t: '709.7'},
    {x: 717.4, y: 50.8, t: 'Fe^{3+}', c: '#f5c445'}, {x: 706.5, y: 52.4, t: 'Fe^{2+}', c: '#2b7fe0'},
    {x: 727.1, y: 29.2, t: '726.5'}, {x: 734.6, y: 4.8, t: 'LMFP-2', s: 48, a: 'left'}
  ]
});
</script>
</body>
</html>
